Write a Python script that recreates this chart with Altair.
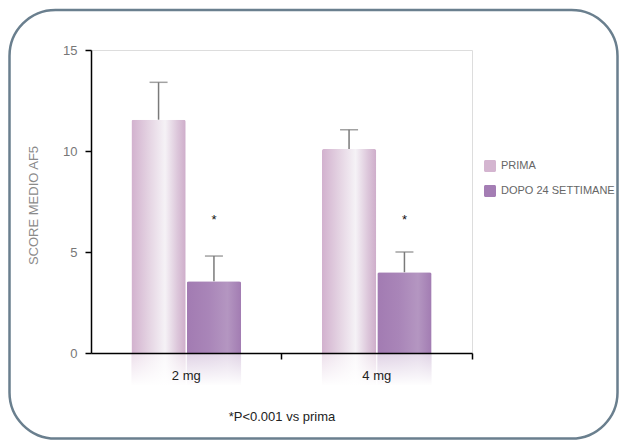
import altair as alt
import pandas as pd

# ---- data ----
doses = ["2 mg", "4 mg"]
series = ["PRIMA", "DOPO 24 SETTIMANE"]
prima_mean = [11.55, 10.1]
prima_upper = [13.4, 11.05]
dopo_mean = [3.55, 4.0]
dopo_upper = [4.8, 5.0]
star_y = [6.6, 6.6]
star_text = ["*", "*"]
footnote = "*P<0.001 vs prima"
y_title = "SCORE MEDIO AF5"
y_ticks = [0, 5, 10, 15]

rows = []
for i, d in enumerate(doses):
    rows.append({"dose": d, "series": series[0], "mean": prima_mean[i], "upper": prima_upper[i]})
    rows.append({"dose": d, "series": series[1], "mean": dopo_mean[i], "upper": dopo_upper[i]})
df = pd.DataFrame(rows)
stars = pd.DataFrame({"dose": doses, "series": [series[1]] * 2, "y": star_y, "t": star_text})

W, H = 381, 303
PL, PT = 83, 42
TOTW, TOTH = 611, 432
SANS = "Liberation Sans, Helvetica, Arial, sans-serif"

grad_prima = {
    "gradient": "linear", "x1": 0, "y1": 0, "x2": 1, "y2": 0,
    "stops": [
        {"offset": 0.0, "color": "#d2b1ce"},
        {"offset": 0.3, "color": "#e3d1e1"},
        {"offset": 0.62, "color": "#f5f2f6"},
        {"offset": 0.85, "color": "#dcc6da"},
        {"offset": 1.0, "color": "#ceadca"},
    ],
}
grad_dopo = {
    "gradient": "linear", "x1": 0, "y1": 0, "x2": 1, "y2": 0,
    "stops": [
        {"offset": 0.0, "color": "#a27bb2"},
        {"offset": 0.4, "color": "#a985b8"},
        {"offset": 0.75, "color": "#b496c1"},
        {"offset": 1.0, "color": "#a27cb2"},
    ],
}
grad_fade = {
    "gradient": "linear", "x1": 0, "y1": 0, "x2": 0, "y2": 1,
    "stops": [
        {"offset": 0.0, "color": "rgba(255,255,255,0.25)"},
        {"offset": 1.0, "color": "rgba(255,255,255,1)"},
    ],
}

x_enc = alt.X(
    "dose:N",
    scale=alt.Scale(domain=doses, paddingInner=0, paddingOuter=0),
    axis=alt.Axis(
        title=footnote, labelAngle=0, bandPosition=1,
        domainColor="#000", domainWidth=1.5, tickColor="#000", tickWidth=1.5,
        tickSize=6, labelPadding=10, labelFont=SANS, labelFontSize=13,
        labelColor="#222", titleFont=SANS, titleFontSize=13, titleFontWeight="normal",
        titleColor="#222", titleBaseline="middle", titleY=63, zindex=1,
    ),
)
xo_enc = alt.XOffset("series:N", scale=alt.Scale(domain=series, paddingOuter=0.73, paddingInner=0.02))
y_enc = alt.Y(
    "mean:Q",
    scale=alt.Scale(domain=[0, 15], nice=False),
    axis=alt.Axis(
        title=y_title, values=y_ticks, grid=False, domainColor="#000", domainWidth=1.5,
        tickColor="#000", tickWidth=1.5, tickSize=6, labelPadding=8, labelFont=SANS,
        labelFontSize=13, labelColor="#777", titleFont=SANS, titleFontSize=13,
        titleFontWeight="normal", titleColor="#8a8a8a", titleX=-51, titleY=155, zindex=1,
    ),
)

base = alt.Chart(df)

frame = alt.Chart(pd.DataFrame({"k": [0]})).mark_rect(
    fill="transparent", stroke="#6a7f8e", strokeWidth=2.5, cornerRadius=46
).encode(
    x=alt.value(-PL + 1.5), x2=alt.value(TOTW - PL - 1.5),
    y=alt.value(-PT + 2), y2=alt.value(TOTH - PT - 1.5),
)

refl_p = base.transform_filter(alt.datum.series == series[0]).mark_bar(
    color=grad_prima, opacity=0.55
).encode(x=x_enc, xOffset=xo_enc, y=alt.value(H), y2=alt.value(H + 32))
refl_d = base.transform_filter(alt.datum.series == series[1]).mark_bar(
    color=grad_dopo, opacity=0.45
).encode(x=x_enc, xOffset=xo_enc, y=alt.value(H), y2=alt.value(H + 32))
fade = alt.Chart(pd.DataFrame({"k": [0]})).mark_rect(color=grad_fade).encode(
    x=alt.value(0), x2=alt.value(W), y=alt.value(H + 0.5), y2=alt.value(H + 33)
)

bars_p = base.transform_filter(alt.datum.series == series[0]).mark_bar(
    color=grad_prima, cornerRadiusTopLeft=2, cornerRadiusTopRight=2
).encode(x=x_enc, xOffset=xo_enc, y=y_enc)
bars_d = base.transform_filter(alt.datum.series == series[1]).mark_bar(
    color=grad_dopo, cornerRadiusTopLeft=2, cornerRadiusTopRight=2
).encode(x=x_enc, xOffset=xo_enc, y=y_enc)

err = base.mark_rule(color="#7a7a7a", strokeWidth=1.5).encode(
    x=x_enc, xOffset=xo_enc, y="mean:Q", y2="upper:Q"
)
cap = base.mark_tick(color="#7a7a7a", thickness=1.5, size=18, orient="horizontal").encode(
    x=x_enc, xOffset=xo_enc, y="upper:Q"
)
star = alt.Chart(stars).mark_text(fontSize=13, font=SANS, color="#111", baseline="middle").encode(
    x=x_enc, xOffset=xo_enc, y="y:Q", text="t:N"
)

rounded_sq = "M-0.75,-1H0.75A0.25,0.25 0 0 1 1,-0.75V0.75A0.25,0.25 0 0 1 0.75,1H-0.75A0.25,0.25 0 0 1 -1,0.75V-0.75A0.25,0.25 0 0 1 -0.75,-1Z"
legend_layer = base.mark_point(filled=True, opacity=0, size=1).encode(
    x=x_enc, xOffset=xo_enc, y="mean:Q",
    color=alt.Color(
        "series:N",
        scale=alt.Scale(domain=series, range=["#d4b5d0", "#a47db4"]),
        legend=alt.Legend(
            title=None, orient="none", legendX=393, legendY=110, symbolType=rounded_sq,
            symbolSize=144, symbolOpacity=1, symbolStrokeWidth=0, labelFont=SANS,
            labelFontSize=11, labelColor="#666", labelOffset=5, rowPadding=13, padding=0,
            labelLimit=200,
        ),
    ),
)

chart = alt.layer(
    frame, refl_p, refl_d, fade, bars_p, bars_d, err, cap, star, legend_layer
).properties(
    width=W, height=H,
    autosize=alt.AutoSizeParams(type="none"),
    padding={"left": PL, "top": PT, "right": TOTW - PL - W, "bottom": TOTH - PT - H},
).configure_view(stroke=None).configure(background="white")

chart.save("out.html", embed_options={"renderer": "svg", "actions": False})
